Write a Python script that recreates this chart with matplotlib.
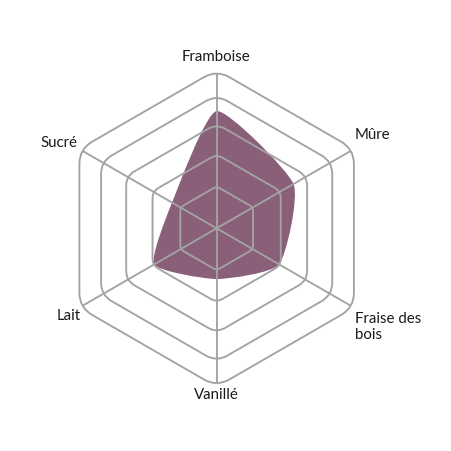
import numpy as np
import matplotlib
matplotlib.use("Agg")
import matplotlib.pyplot as plt
from matplotlib.path import Path
from matplotlib.patches import PathPatch

# ---- data ----
categories = ["Framboise", "Mûre", "Fraise des\nbois", "Vanillé", "Lait", "Sucré"]
values = [74, 56, 45.5, 32, 45.5, 32.5]
ring_levels = [26.5, 46.7, 65.9, 84.2, 100]

GRID = "#a3a3a3"
FILL = "#8a5f79"
TENSION = 0.45

n = len(categories)
angles = np.deg2rad(90 - np.arange(n) * 360 / n)

fig = plt.figure(figsize=(4.52, 4.52), dpi=100)
ax = fig.add_axes([0, 0, 1, 1])
ax.set_xlim(-136.7, 148.5)
ax.set_ylim(-140.5, 144.7)
ax.set_aspect("equal")
ax.axis("off")


def rounded_hexagon(r, frac=0.16):
    verts = np.column_stack([r * np.cos(angles), r * np.sin(angles)])
    rho = frac * r
    t = rho * np.tan(np.deg2rad(30))
    pts, codes = [], []
    for i in range(n):
        v = verts[i]
        prev = verts[i - 1]
        nxt = verts[(i + 1) % n]
        a = v + (prev - v) / np.linalg.norm(prev - v) * t
        b = v + (nxt - v) / np.linalg.norm(nxt - v) * t
        pts.append(a)
        codes.append(Path.MOVETO if i == 0 else Path.LINETO)
        pts.extend([v, b]); codes.extend([Path.CURVE3, Path.CURVE3])
    pts.append(pts[0]); codes.append(Path.LINETO)
    return Path(pts, codes), 0.25 * t


# ---- data shape: closed cardinal spline ----
P = np.column_stack([np.array(values) * np.cos(angles), np.array(values) * np.sin(angles)])
k = (1 - TENSION) / 6.0
verts, codes = [P[0]], [Path.MOVETO]
for i in range(n):
    p0, p1, p2, p3 = P[i - 1], P[i], P[(i + 1) % n], P[(i + 2) % n]
    c1 = p1 + k * (p2 - p0)
    c2 = p2 - k * (p3 - p1)
    verts.extend([c1, c2, p2]); codes.extend([Path.CURVE4] * 3)
ax.add_patch(PathPatch(Path(verts, codes), fc=FILL, ec="none", lw=0, zorder=1))

# ---- grid ----
outer_red = 0
for r in ring_levels:
    path, red = rounded_hexagon(r)
    ax.add_patch(PathPatch(path, fc="none", ec=GRID, lw=1.35, zorder=2))
    outer_red = red
R = ring_levels[-1] - outer_red
for a in angles:
    ax.plot([0, R * np.cos(a)], [0, R * np.sin(a)], color=GRID, lw=1.35, zorder=2,
            solid_capstyle="butt")

# ---- labels ----
font = dict(family=["Lato", "DejaVu Sans"], fontsize=10.8, color="#1a1a1a")
label_pos = [
    (-0.4, 108.8, "center", "center"),
    (87.3, 59.5, "left", "center"),
    (87.3, -61.6, "left", "center"),
    (-0.4, -104.5, "center", "center"),
    (-86.0, -55.0, "right", "center"),
    (-88.0, 54.4, "right", "center"),
]
for lab, (x, y, ha, va) in zip(categories, label_pos):
    ax.text(x, y, lab, ha=ha, va=va, linespacing=1.2, **font)

fig.savefig("out.png", dpi=100, facecolor="white")
